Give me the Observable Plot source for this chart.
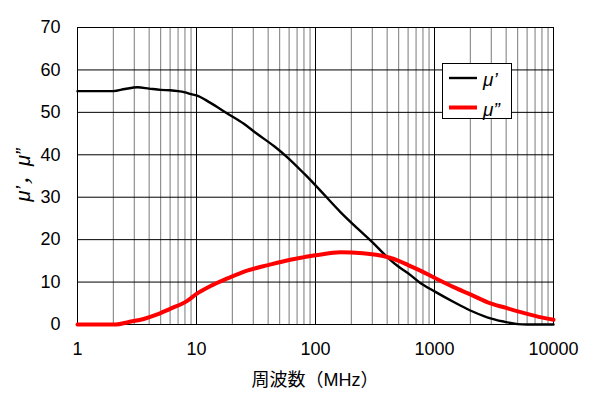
<!DOCTYPE html>
<html>
<head>
<meta charset="utf-8">
<script src="https://cdn.jsdelivr.net/npm/d3@7"></script>
<script src="https://cdn.jsdelivr.net/npm/@observablehq/plot@0.6"></script>
<style>
  body { margin: 0; background: #fff; }
  #wrap { position: relative; width: 596px; height: 395px; font-family: "Liberation Sans", Arial, sans-serif; }
  #legend { position: absolute; left: 442px; top: 63px; width: 70px; height: 56px; border: 1px solid #000; background: #fff; box-sizing: border-box; }
  #legend svg { position: absolute; left: 0; top: 0; }
</style>
</head>
<body>
<div id="wrap"></div>
<script>
// μ' data
const freqReal = [1, 2, 2.5, 3.2, 4, 5, 6, 7, 8, 9, 10, 13, 18, 25, 32, 45, 58, 80, 100, 162, 230, 300, 400, 500, 600, 760, 1000, 1450, 2000, 2770, 3800, 5000, 6000, 10000];
const muReal   = [55, 55, 55.5, 55.9, 55.6, 55.3, 55.2, 55.0, 54.7, 54.3, 54.0, 52.3, 49.8, 47.3, 45.0, 42.0, 39.4, 35.6, 32.8, 26.5, 22.4, 19.4, 15.9, 13.6, 12.1, 9.8, 7.8, 5.3, 3.3, 1.7, 0.7, 0.1, 0, 0];
// μ'' data
const freqImag = [1, 2.1, 2.7, 3.6, 4.5, 6, 8.3, 10, 13, 18, 26.6, 40, 60, 100, 162, 250, 400, 500, 600, 760, 1000, 1450, 2000, 2770, 4000, 5300, 7500, 10000];
const muImag   = [0, 0, 0.6, 1.3, 2.2, 3.7, 5.5, 7.2, 9.0, 10.8, 12.7, 14.0, 15.2, 16.3, 17.0, 16.8, 15.9, 15.0, 14.0, 12.7, 11.0, 8.8, 7.1, 5.3, 3.9, 2.9, 1.8, 1.1];
// axes
const xTicks = [1, 10, 100, 1000, 10000];
const yTicks = [0, 10, 20, 30, 40, 50, 60, 70];
const xLabel = "周波数（MHz）";
const yLabel = "μ’，μ”";
const seriesNames = ["μ’", "μ”"];
const seriesColors = ["#000000", "#ff0000"];

const minorX = [];
for (const d of [1, 10, 100, 1000]) for (let k = 2; k <= 9; k++) minorX.push(d * k);

const realData = freqReal.map((f, i) => ({f, v: muReal[i]}));
const imagData = freqImag.map((f, i) => ({f, v: muImag[i]}));

const chart = Plot.plot({
  width: 596,
  height: 395,
  marginLeft: 77,
  marginRight: 43,
  marginTop: 27,
  marginBottom: 71,
  style: {fontFamily: "Liberation Sans, Arial, sans-serif", fontSize: "18px", color: "#000", background: "#fff"},
  x: {type: "log", domain: [1, 10000]},
  y: {domain: [0, 70]},
  marks: [
    Plot.ruleX(minorX, {stroke: "#7a7a7a", strokeWidth: 1}),
    Plot.ruleX(xTicks, {stroke: "#000", strokeWidth: 1}),
    Plot.ruleY(yTicks, {stroke: "#000", strokeWidth: 1}),
    Plot.frame({stroke: "#000", strokeWidth: 1}),
    Plot.line(realData, {x: "f", y: "v", stroke: seriesColors[0], strokeWidth: 2.4, curve: "monotone-x"}),
    Plot.line(imagData, {x: "f", y: "v", stroke: seriesColors[1], strokeWidth: 4, curve: "monotone-x"}),
    Plot.axisX({ticks: xTicks, tickFormat: d => String(d), tickSize: 0, tickPadding: 18, fontSize: 18,
      label: null}),
    Plot.axisY({ticks: yTicks, tickSize: 0, tickPadding: 17, fontSize: 18, label: null})
  ]
});
const wrap = document.getElementById("wrap");
wrap.appendChild(chart);

// axis titles (as text in the SVG)
const svg = d3.select(chart.tagName.toLowerCase() === "svg" ? chart : chart.querySelector("svg"));
svg.append("text").attr("x", 315).attr("y", 381).attr("text-anchor", "middle").attr("dominant-baseline", "middle")
  .attr("font-size", 18).attr("font-family", "Liberation Sans, 'Noto Sans CJK JP', sans-serif").attr("fill", "#000").text(xLabel);
svg.append("text").attr("transform", "translate(25,175) rotate(-90)").attr("text-anchor", "middle").attr("dominant-baseline", "middle")
  .attr("font-size", 20).attr("font-style", "italic").attr("font-family", "Liberation Sans, 'Noto Sans CJK JP', sans-serif").attr("fill", "#000").text(yLabel);

// legend
const legend = document.createElement("div");
legend.id = "legend";
const ls = d3.create("svg").attr("width", 70).attr("height", 56);
seriesNames.forEach((name, i) => {
  const y = 14 + i * 29.5;
  ls.append("line").attr("x1", 6).attr("x2", 34).attr("y1", y).attr("y2", y)
    .attr("stroke", seriesColors[i]).attr("stroke-width", i === 0 ? 2.4 : 4);
  ls.append("text").attr("x", 40).attr("y", y + 8).attr("font-size", 19).attr("font-style", "italic")
    .attr("font-family", "Liberation Sans, Arial, sans-serif").text(name);
});
legend.appendChild(ls.node());
wrap.appendChild(legend);
</script>
</body>
</html>
